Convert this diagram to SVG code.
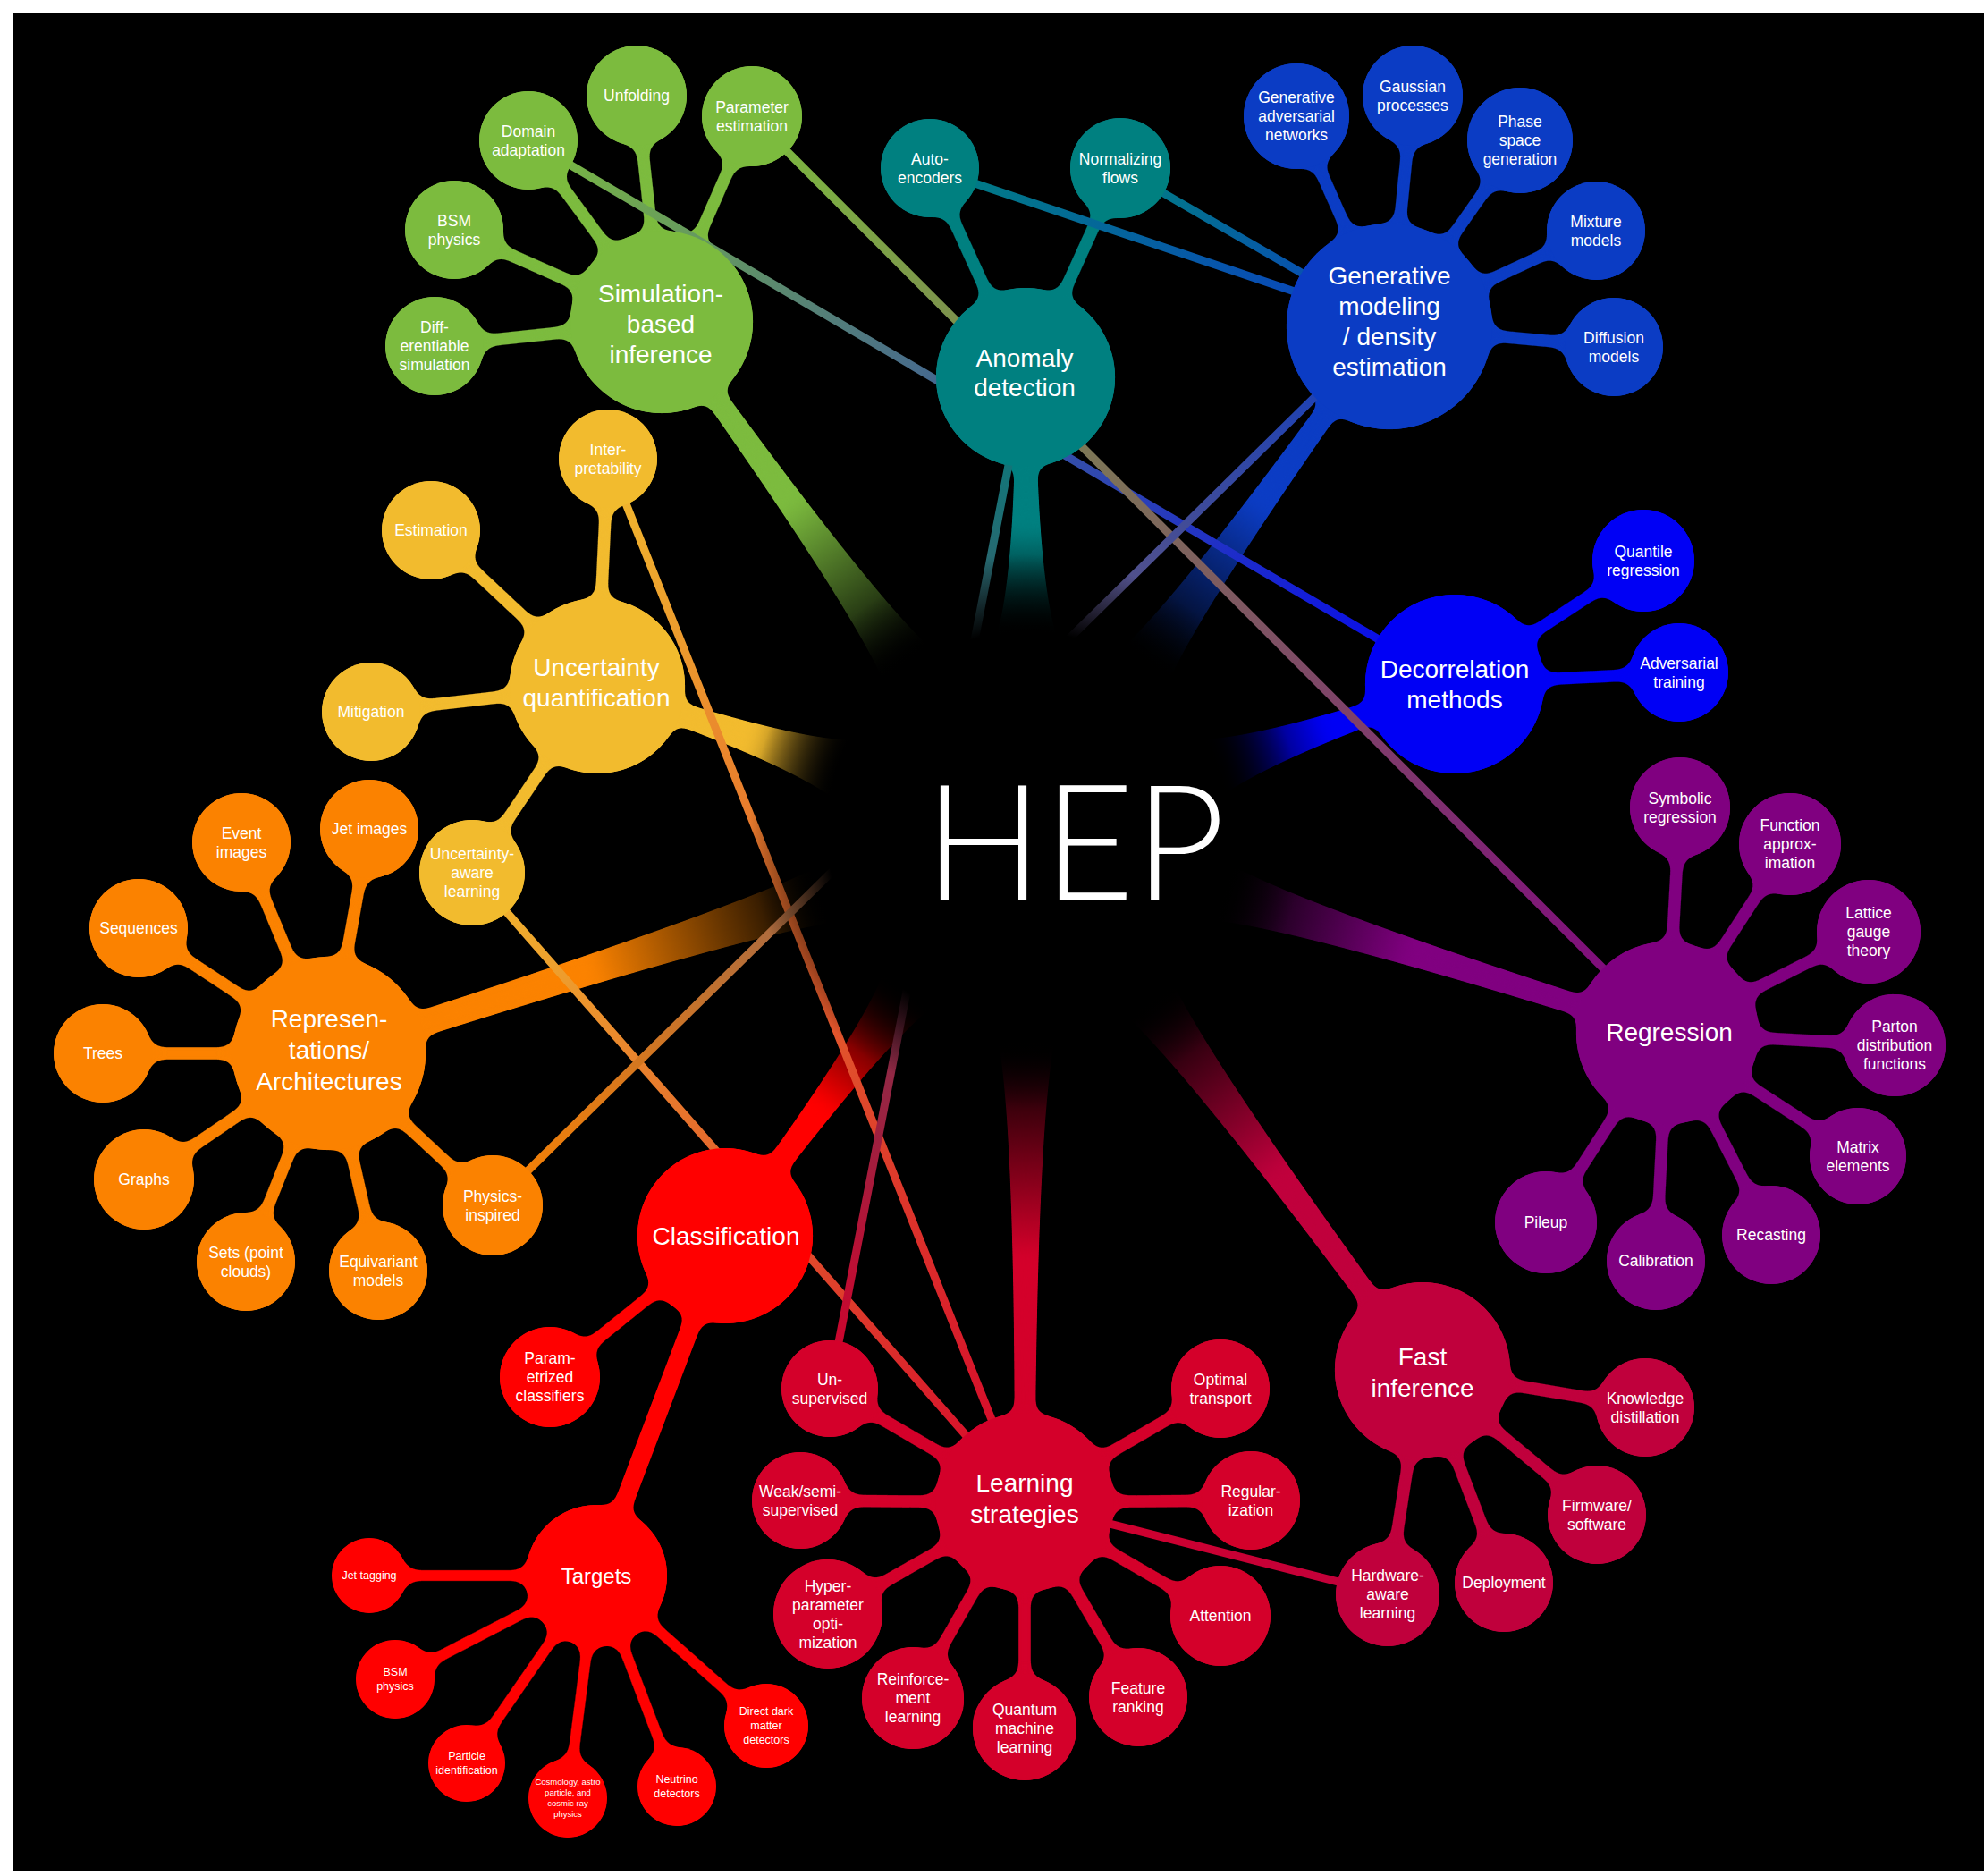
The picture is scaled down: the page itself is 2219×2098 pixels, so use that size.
<svg xmlns="http://www.w3.org/2000/svg" width="2219" height="2098" viewBox="0 0 2219 2098">
<defs>
<style>
.t{fill:#fff;font-family:"Liberation Sans",Arial,Helvetica,sans-serif;text-anchor:middle}
.mt{font-size:28px}
.lf{font-size:17.5px}
.sm{font-size:12.5px}
.xs{font-size:9.5px}
.tg{font-size:24px}
.st{stroke:currentColor;stroke-width:14;fill:none;stroke-linecap:round}
.st2{stroke:currentColor;stroke-width:20;fill:none;stroke-linecap:round}
.st3{stroke:currentColor;stroke-width:13;fill:none;stroke-linecap:round}
.lk{fill:none;stroke-width:9;stroke-linecap:round}
.hep{fill:#fff;font-family:Lato,"Open Sans","Liberation Sans",sans-serif;font-weight:300;font-size:180px;text-anchor:middle}
.c-sbi{fill:#7cbb3e;color:#7cbb3e}
.c-ad{fill:#008080;color:#008080}
.c-gen{fill:#0b3cc4;color:#0b3cc4}
.c-dec{fill:#0000f5;color:#0000f5}
.c-reg{fill:#800080;color:#800080}
.c-fast{fill:#c0003c;color:#c0003c}
.c-learn{fill:#d4002a;color:#d4002a}
.c-cls{fill:#ff0000;color:#ff0000}
.c-rep{fill:#fb8200;color:#fb8200}
.c-unc{fill:#f2bb2e;color:#f2bb2e}
</style>
<!-- blur + alpha threshold: merges circles and stems into smooth blobs -->
<filter id="goo" x="-20%" y="-20%" width="140%" height="140%" color-interpolation-filters="sRGB">
<feGaussianBlur in="SourceGraphic" stdDeviation="8"/>
<feColorMatrix type="matrix" values="1 0 0 0 0  0 1 0 0 0  0 0 1 0 0  0 0 0 22 -10"/>
</filter>
<radialGradient id="hubfade" cx="1148" cy="930" r="310" gradientUnits="userSpaceOnUse">
<stop offset="0" stop-color="#000"/>
<stop offset="0.72" stop-color="#000"/>
<stop offset="1" stop-color="#000" stop-opacity="0"/>
</radialGradient>
<!-- hub stems: cluster colour darkening towards the centre -->
<linearGradient id="w-sbi" gradientUnits="userSpaceOnUse" x1="740" y1="360" x2="1032" y2="767"><stop offset="0" stop-color="#7cbb3e"/><stop offset="0.5" stop-color="#7cbb3e"/><stop offset="0.92" stop-color="#000"/></linearGradient>
<linearGradient id="w-ad" gradientUnits="userSpaceOnUse" x1="1147" y1="422" x2="1148" y2="730"><stop offset="0" stop-color="#008080"/><stop offset="0.55" stop-color="#008080"/><stop offset="0.95" stop-color="#000"/></linearGradient>
<linearGradient id="w-gen" gradientUnits="userSpaceOnUse" x1="1554" y1="365" x2="1264" y2="767"><stop offset="0" stop-color="#0b3cc4"/><stop offset="0.5" stop-color="#0b3cc4"/><stop offset="0.92" stop-color="#000"/></linearGradient>
<linearGradient id="w-dec" gradientUnits="userSpaceOnUse" x1="1627" y1="765" x2="1337" y2="865"><stop offset="0" stop-color="#0000f5"/><stop offset="0.5" stop-color="#0000f5"/><stop offset="0.92" stop-color="#000"/></linearGradient>
<linearGradient id="w-reg" gradientUnits="userSpaceOnUse" x1="1865" y1="1155" x2="1339" y2="989"><stop offset="0" stop-color="#800080"/><stop offset="0.55" stop-color="#800080"/><stop offset="0.93" stop-color="#000"/></linearGradient>
<linearGradient id="w-fast" gradientUnits="userSpaceOnUse" x1="1591" y1="1532" x2="1266" y2="1091"><stop offset="0" stop-color="#c0003c"/><stop offset="0.5" stop-color="#c0003c"/><stop offset="0.92" stop-color="#000"/></linearGradient>
<linearGradient id="w-learn" gradientUnits="userSpaceOnUse" x1="1146" y1="1680" x2="1148" y2="1130"><stop offset="0" stop-color="#d4002a"/><stop offset="0.5" stop-color="#d4002a"/><stop offset="0.92" stop-color="#000"/></linearGradient>
<linearGradient id="w-cls" gradientUnits="userSpaceOnUse" x1="811" y1="1382" x2="1028" y2="1090"><stop offset="0" stop-color="#ff0000"/><stop offset="0.5" stop-color="#ff0000"/><stop offset="0.92" stop-color="#000"/></linearGradient>
<linearGradient id="w-rep" gradientUnits="userSpaceOnUse" x1="368" y1="1178" x2="957" y2="990"><stop offset="0" stop-color="#fb8200"/><stop offset="0.5" stop-color="#fb8200"/><stop offset="0.92" stop-color="#000"/></linearGradient>
<linearGradient id="w-unc" gradientUnits="userSpaceOnUse" x1="668" y1="767" x2="959" y2="865"><stop offset="0" stop-color="#f2bb2e"/><stop offset="0.6" stop-color="#f2bb2e"/><stop offset="0.95" stop-color="#000"/></linearGradient>
<!-- cross-links -->
<linearGradient id="g1" gradientUnits="userSpaceOnUse" x1="591" y1="157" x2="1627" y2="765"><stop offset="0" stop-color="#7cbb3e"/><stop offset="1" stop-color="#0000f5"/></linearGradient>
<linearGradient id="g2" gradientUnits="userSpaceOnUse" x1="841" y1="130" x2="1865" y2="1155"><stop offset="0" stop-color="#7cbb3e"/><stop offset="1" stop-color="#800080"/></linearGradient>
<linearGradient id="g3" gradientUnits="userSpaceOnUse" x1="1040" y1="188" x2="1554" y2="362"><stop offset="0" stop-color="#008080"/><stop offset="1" stop-color="#0b3cc4"/></linearGradient>
<linearGradient id="g4" gradientUnits="userSpaceOnUse" x1="1253" y1="188" x2="1554" y2="362"><stop offset="0" stop-color="#008080"/><stop offset="1" stop-color="#0b3cc4"/></linearGradient>
<linearGradient id="g5" gradientUnits="userSpaceOnUse" x1="680" y1="513" x2="1146" y2="1680"><stop offset="0" stop-color="#f2bb2e"/><stop offset="1" stop-color="#d4002a"/></linearGradient>
<linearGradient id="g6" gradientUnits="userSpaceOnUse" x1="528" y1="976" x2="1146" y2="1680"><stop offset="0" stop-color="#f2bb2e"/><stop offset="1" stop-color="#d4002a"/></linearGradient>
<linearGradient id="g7" gradientUnits="userSpaceOnUse" x1="551" y1="1348" x2="1554" y2="362"><stop offset="0" stop-color="#fb8200"/><stop offset="1" stop-color="#0b3cc4"/></linearGradient>
<linearGradient id="g8" gradientUnits="userSpaceOnUse" x1="928" y1="1553" x2="1147" y2="422"><stop offset="0" stop-color="#d4002a"/><stop offset="1" stop-color="#008080"/></linearGradient>
<linearGradient id="g9" gradientUnits="userSpaceOnUse" x1="1146" y1="1680" x2="1552" y2="1783"><stop offset="0" stop-color="#d4002a"/><stop offset="1" stop-color="#c0003c"/></linearGradient>
</defs>

<rect width="2219" height="2098" fill="#fff"/>
<rect x="14" y="14" width="2205" height="2078" fill="#000"/>

<g id="connectors">
<!-- stems inside each cluster (merged with their circles) -->
<g id="stems-sbi" class="c-sbi" filter="url(#goo)">
<path fill="url(#w-sbi)" d="M731,366 Q988,725 999,791 L1064,744 Q1006,712 749,354 Z"/>
<line class="st" x1="712" y1="107" x2="740" y2="360"/>
<line class="st" x1="841" y1="130" x2="740" y2="360"/>
<line class="st" x1="591" y1="157" x2="740" y2="360"/>
<line class="st" x1="508" y1="257" x2="740" y2="360"/>
<line class="st" x1="486" y1="387" x2="740" y2="360"/>
<use href="#c-sbi"/><use href="#c-sbi-unfold"/><use href="#c-sbi-param"/><use href="#c-sbi-domain"/><use href="#c-sbi-bsm"/><use href="#c-sbi-diff"/>
</g>
<g id="stems-ad" class="c-ad" filter="url(#goo)">
<path fill="url(#w-ad)" d="M1136,422 Q1137,670 1108,730 L1188,730 Q1159,670 1158,422 Z"/>
<line class="st" x1="1040" y1="188" x2="1147" y2="422"/>
<line class="st" x1="1253" y1="188" x2="1147" y2="422"/>
<use href="#c-ad"/><use href="#c-ad-auto"/><use href="#c-ad-flows"/>
</g>
<g id="stems-gen" class="c-gen" filter="url(#goo)">
<path fill="url(#w-gen)" d="M1545,356 Q1290,712 1232,744 L1297,790 Q1308,725 1563,368 Z"/>
<line class="st" x1="1450" y1="130" x2="1554" y2="365"/>
<line class="st" x1="1580" y1="107" x2="1554" y2="365"/>
<line class="st" x1="1700" y1="157" x2="1554" y2="365"/>
<line class="st" x1="1785" y1="258" x2="1554" y2="365"/>
<line class="st" x1="1805" y1="388" x2="1554" y2="365"/>
<use href="#c-gen"/><use href="#c-gen-gan"/><use href="#c-gen-gp"/><use href="#c-gen-phase"/><use href="#c-gen-mix"/><use href="#c-gen-diff"/>
</g>
<g id="stems-dec" class="c-dec" filter="url(#goo)">
<path fill="url(#w-dec)" d="M1623,755 Q1390,835 1324,827 L1350,903 Q1397,856 1631,775 Z"/>
<line class="st" x1="1838" y1="627" x2="1627" y2="765"/>
<line class="st" x1="1878" y1="752" x2="1627" y2="765"/>
<use href="#c-dec"/><use href="#c-dec-quant"/><use href="#c-dec-adv"/>
</g>
<g id="stems-reg" class="c-reg" filter="url(#goo)">
<path fill="url(#w-reg)" d="M1868,1145 Q1400,997 1351,951 L1327,1028 Q1393,1018 1862,1166 Z"/>
<line class="st" x1="1879" y1="903" x2="1865" y2="1155"/>
<line class="st" x1="2002" y1="944" x2="1865" y2="1155"/>
<line class="st" x1="2090" y1="1042" x2="1865" y2="1155"/>
<line class="st" x1="2119" y1="1169" x2="1865" y2="1155"/>
<line class="st" x1="2078" y1="1293" x2="1865" y2="1155"/>
<line class="st" x1="1981" y1="1381" x2="1865" y2="1155"/>
<line class="st" x1="1852" y1="1410" x2="1865" y2="1155"/>
<line class="st" x1="1729" y1="1367" x2="1865" y2="1155"/>
<use href="#c-reg"/><use href="#c-reg-sym"/><use href="#c-reg-func"/><use href="#c-reg-lat"/><use href="#c-reg-pdf"/><use href="#c-reg-mat"/><use href="#c-reg-rec"/><use href="#c-reg-cal"/><use href="#c-reg-pile"/>
</g>
<g id="stems-fast" class="c-fast" filter="url(#goo)">
<path fill="url(#w-fast)" d="M1600,1526 Q1311,1133 1299,1067 L1234,1115 Q1293,1146 1582,1539 Z"/>
<line class="st" x1="1840" y1="1574" x2="1591" y2="1532"/>
<line class="st" x1="1786" y1="1694" x2="1591" y2="1532"/>
<line class="st" x1="1682" y1="1770" x2="1591" y2="1532"/>
<line class="st" x1="1552" y1="1783" x2="1591" y2="1532"/>
<use href="#c-fast"/><use href="#c-fast-kd"/><use href="#c-fast-fw"/><use href="#c-fast-dep"/><use href="#c-fast-hw"/>
</g>
<g id="stems-learn" class="c-learn" filter="url(#goo)">
<path fill="url(#w-learn)" d="M1157,1680 Q1159,1190 1188,1130 L1108,1130 Q1137,1190 1135,1680 Z"/>
<line class="st" x1="928" y1="1553" x2="1146" y2="1680"/>
<line class="st" x1="895" y1="1678" x2="1146" y2="1680"/>
<line class="st" x1="926" y1="1805" x2="1146" y2="1680"/>
<line class="st" x1="1021" y1="1899" x2="1146" y2="1680"/>
<line class="st" x1="1146" y1="1933" x2="1146" y2="1680"/>
<line class="st" x1="1273" y1="1898" x2="1146" y2="1680"/>
<line class="st" x1="1365" y1="1807" x2="1146" y2="1680"/>
<line class="st" x1="1399" y1="1678" x2="1146" y2="1680"/>
<line class="st" x1="1365" y1="1553" x2="1146" y2="1680"/>
<use href="#c-learn"/><use href="#c-learn-unsup"/><use href="#c-learn-weak"/><use href="#c-learn-hyper"/><use href="#c-learn-rl"/><use href="#c-learn-qml"/><use href="#c-learn-feat"/><use href="#c-learn-att"/><use href="#c-learn-reg"/><use href="#c-learn-ot"/>
</g>
<g id="stems-cls" class="c-cls" filter="url(#goo)">
<path fill="url(#w-cls)" d="M820,1389 Q1001,1145 1060,1114 L996,1066 Q983,1132 802,1375 Z"/>
<line class="st" x1="615" y1="1540" x2="811" y2="1382"/>
<line class="st2" x1="667" y1="1762" x2="811" y2="1382"/>
<line class="st3" x1="413" y1="1762" x2="667" y2="1762"/>
<line class="st3" x1="442" y1="1878" x2="667" y2="1762"/>
<line class="st3" x1="522" y1="1972" x2="667" y2="1762"/>
<line class="st3" x1="635" y1="2011" x2="667" y2="1762"/>
<line class="st3" x1="757" y1="1998" x2="667" y2="1762"/>
<line class="st3" x1="857" y1="1930" x2="667" y2="1762"/>
<use href="#c-cls"/><use href="#c-cls-param"/><use href="#c-tgt"/><use href="#c-tgt-jet"/><use href="#c-tgt-bsm"/><use href="#c-tgt-pid"/><use href="#c-tgt-cos"/><use href="#c-tgt-nu"/><use href="#c-tgt-dm"/>
</g>
<g id="stems-rep" class="c-rep" filter="url(#goo)">
<path fill="url(#w-rep)" d="M372,1191 Q904,1021 969,1028 L945,952 Q896,995 364,1165 Z"/>
<line class="st" x1="270" y1="942" x2="368" y2="1178"/>
<line class="st" x1="413" y1="927" x2="368" y2="1178"/>
<line class="st" x1="155" y1="1038" x2="368" y2="1178"/>
<line class="st" x1="115" y1="1178" x2="368" y2="1178"/>
<line class="st" x1="161" y1="1319" x2="368" y2="1178"/>
<line class="st" x1="275" y1="1411" x2="368" y2="1178"/>
<line class="st" x1="423" y1="1421" x2="368" y2="1178"/>
<line class="st" x1="551" y1="1348" x2="368" y2="1178"/>
<use href="#c-rep"/><use href="#c-rep-event"/><use href="#c-rep-jet"/><use href="#c-rep-seq"/><use href="#c-rep-trees"/><use href="#c-rep-graphs"/><use href="#c-rep-sets"/><use href="#c-rep-equi"/><use href="#c-rep-phys"/>
</g>
<g id="stems-unc" class="c-unc" filter="url(#goo)">
<path fill="url(#w-unc)" d="M664,777 Q898,857 946,903 L972,828 Q906,836 672,757 Z"/>
<line class="st" x1="680" y1="513" x2="668" y2="767"/>
<line class="st" x1="482" y1="593" x2="668" y2="767"/>
<line class="st" x1="415" y1="796" x2="668" y2="767"/>
<line class="st" x1="528" y1="976" x2="668" y2="767"/>
<use href="#c-unc"/><use href="#c-unc-interp"/><use href="#c-unc-est"/><use href="#c-unc-mit"/><use href="#c-unc-aware"/>
</g>

<!-- cross-links between clusters -->
<g id="links">
<line class="lk" stroke="url(#g1)" x1="591" y1="157" x2="1627" y2="765"/>
<line class="lk" stroke="url(#g2)" x1="841" y1="130" x2="1865" y2="1155"/>
<line class="lk" stroke="url(#g3)" x1="1040" y1="188" x2="1554" y2="362"/>
<line class="lk" stroke="url(#g4)" stroke-width="11" x1="1253" y1="188" x2="1554" y2="362"/>
<line class="lk" stroke="url(#g5)" x1="680" y1="513" x2="1146" y2="1680"/>
<line class="lk" stroke="url(#g6)" x1="528" y1="976" x2="1146" y2="1680"/>
<line class="lk" stroke="url(#g7)" x1="551" y1="1348" x2="1554" y2="362"/>
<line class="lk" stroke="url(#g8)" x1="928" y1="1553" x2="1147" y2="422"/>
<line class="lk" stroke="url(#g9)" stroke-width="12" x1="1146" y1="1680" x2="1552" y2="1783"/>
</g>
</g>

<!-- Simulation-based inference -->
<g id="sbi" class="c-sbi"><circle id="c-sbi" cx="740" cy="360" r="102"/><text class="t mt" x="739" y="338">Simulation-<tspan x="739" dy="34">based</tspan><tspan x="739" dy="34">inference</tspan></text></g>
<g id="sbi-unfold" class="c-sbi"><circle id="c-sbi-unfold" cx="712" cy="107" r="56"/><text class="t lf" x="712" y="113">Unfolding</text></g>
<g id="sbi-param" class="c-sbi"><circle id="c-sbi-param" cx="841" cy="130" r="56"/><text class="t lf" x="841" y="126">Parameter<tspan x="841" dy="21">estimation</tspan></text></g>
<g id="sbi-domain" class="c-sbi"><circle id="c-sbi-domain" cx="591" cy="157" r="55"/><text class="t lf" x="591" y="153">Domain<tspan x="591" dy="21">adaptation</tspan></text></g>
<g id="sbi-bsm" class="c-sbi"><circle id="c-sbi-bsm" cx="508" cy="257" r="55"/><text class="t lf" x="508" y="253">BSM<tspan x="508" dy="21">physics</tspan></text></g>
<g id="sbi-diff" class="c-sbi"><circle id="c-sbi-diff" cx="486" cy="387" r="55"/><text class="t lf" x="486" y="372">Diff-<tspan x="486" dy="21">erentiable</tspan><tspan x="486" dy="21">simulation</tspan></text></g>

<!-- Anomaly detection -->
<g id="ad" class="c-ad"><circle id="c-ad" cx="1147" cy="422" r="100"/><text class="t mt" x="1146" y="410">Anomaly<tspan x="1146" dy="33">detection</tspan></text></g>
<g id="ad-auto" class="c-ad"><circle id="c-ad-auto" cx="1040" cy="188" r="55"/><text class="t lf" x="1040" y="184">Auto-<tspan x="1040" dy="21">encoders</tspan></text></g>
<g id="ad-flows" class="c-ad"><circle id="c-ad-flows" cx="1253" cy="188" r="56"/><text class="t lf" x="1253" y="184">Normalizing<tspan x="1253" dy="21">flows</tspan></text></g>

<!-- Generative modeling -->
<g id="gen" class="c-gen"><circle id="c-gen" cx="1554" cy="365" r="115"/><text class="t mt" x="1554" y="318">Generative<tspan x="1554" dy="34">modeling</tspan><tspan x="1554" dy="34">/ density</tspan><tspan x="1554" dy="34">estimation</tspan></text></g>
<g id="gen-gan" class="c-gen"><circle id="c-gen-gan" cx="1450" cy="130" r="59"/><text class="t lf" x="1450" y="115">Generative<tspan x="1450" dy="21">adversarial</tspan><tspan x="1450" dy="21">networks</tspan></text></g>
<g id="gen-gp" class="c-gen"><circle id="c-gen-gp" cx="1580" cy="107" r="56"/><text class="t lf" x="1580" y="103">Gaussian<tspan x="1580" dy="21">processes</tspan></text></g>
<g id="gen-phase" class="c-gen"><circle id="c-gen-phase" cx="1700" cy="157" r="59"/><text class="t lf" x="1700" y="142">Phase<tspan x="1700" dy="21">space</tspan><tspan x="1700" dy="21">generation</tspan></text></g>
<g id="gen-mix" class="c-gen"><circle id="c-gen-mix" cx="1785" cy="258" r="55"/><text class="t lf" x="1785" y="254">Mixture<tspan x="1785" dy="21">models</tspan></text></g>
<g id="gen-diff" class="c-gen"><circle id="c-gen-diff" cx="1805" cy="388" r="55"/><text class="t lf" x="1805" y="384">Diffusion<tspan x="1805" dy="21">models</tspan></text></g>

<!-- Decorrelation methods -->
<g id="dec" class="c-dec"><circle id="c-dec" cx="1627" cy="765" r="100"/><text class="t mt" x="1627" y="758">Decorrelation<tspan x="1627" dy="34">methods</tspan></text></g>
<g id="dec-quant" class="c-dec"><circle id="c-dec-quant" cx="1838" cy="627" r="57"/><text class="t lf" x="1838" y="623">Quantile<tspan x="1838" dy="21">regression</tspan></text></g>
<g id="dec-adv" class="c-dec"><circle id="c-dec-adv" cx="1878" cy="752" r="55"/><text class="t lf" x="1878" y="748">Adversarial<tspan x="1878" dy="21">training</tspan></text></g>

<!-- Regression -->
<g id="reg" class="c-reg"><circle id="c-reg" cx="1865" cy="1155" r="102"/><text class="t mt" x="1867" y="1164">Regression</text></g>
<g id="reg-sym" class="c-reg"><circle id="c-reg-sym" cx="1879" cy="903" r="56"/><text class="t lf" x="1879" y="899">Symbolic<tspan x="1879" dy="21">regression</tspan></text></g>
<g id="reg-func" class="c-reg"><circle id="c-reg-func" cx="2002" cy="944" r="57"/><text class="t lf" x="2002" y="929">Function<tspan x="2002" dy="21">approx-</tspan><tspan x="2002" dy="21">imation</tspan></text></g>
<g id="reg-lat" class="c-reg"><circle id="c-reg-lat" cx="2090" cy="1042" r="58"/><text class="t lf" x="2090" y="1027">Lattice<tspan x="2090" dy="21">gauge</tspan><tspan x="2090" dy="21">theory</tspan></text></g>
<g id="reg-pdf" class="c-reg"><circle id="c-reg-pdf" cx="2119" cy="1169" r="57"/><text class="t lf" x="2119" y="1154">Parton<tspan x="2119" dy="21">distribution</tspan><tspan x="2119" dy="21">functions</tspan></text></g>
<g id="reg-mat" class="c-reg"><circle id="c-reg-mat" cx="2078" cy="1293" r="54"/><text class="t lf" x="2078" y="1289">Matrix<tspan x="2078" dy="21">elements</tspan></text></g>
<g id="reg-rec" class="c-reg"><circle id="c-reg-rec" cx="1981" cy="1381" r="55"/><text class="t lf" x="1981" y="1387">Recasting</text></g>
<g id="reg-cal" class="c-reg"><circle id="c-reg-cal" cx="1852" cy="1410" r="55"/><text class="t lf" x="1852" y="1416">Calibration</text></g>
<g id="reg-pile" class="c-reg"><circle id="c-reg-pile" cx="1729" cy="1367" r="57"/><text class="t lf" x="1729" y="1373">Pileup</text></g>

<!-- Fast inference -->
<g id="fast" class="c-fast"><circle id="c-fast" cx="1591" cy="1532" r="98"/><text class="t mt" x="1591" y="1527">Fast<tspan x="1591" dy="35">inference</tspan></text></g>
<g id="fast-kd" class="c-fast"><circle id="c-fast-kd" cx="1840" cy="1574" r="55"/><text class="t lf" x="1840" y="1570">Knowledge<tspan x="1840" dy="21">distillation</tspan></text></g>
<g id="fast-fw" class="c-fast"><circle id="c-fast-fw" cx="1786" cy="1694" r="55"/><text class="t lf" x="1786" y="1690">Firmware/<tspan x="1786" dy="21">software</tspan></text></g>
<g id="fast-dep" class="c-fast"><circle id="c-fast-dep" cx="1682" cy="1770" r="55"/><text class="t lf" x="1682" y="1776">Deployment</text></g>
<g id="fast-hw" class="c-fast"><circle id="c-fast-hw" cx="1552" cy="1783" r="58"/><text class="t lf" x="1552" y="1768">Hardware-<tspan x="1552" dy="21">aware</tspan><tspan x="1552" dy="21">learning</tspan></text></g>

<!-- Learning strategies -->
<g id="learn" class="c-learn"><circle id="c-learn" cx="1146" cy="1680" r="100"/><text class="t mt" x="1146" y="1668">Learning<tspan x="1146" dy="35">strategies</tspan></text></g>
<g id="learn-unsup" class="c-learn"><circle id="c-learn-unsup" cx="928" cy="1553" r="54"/><text class="t lf" x="928" y="1549">Un-<tspan x="928" dy="21">supervised</tspan></text></g>
<g id="learn-weak" class="c-learn"><circle id="c-learn-weak" cx="895" cy="1678" r="54"/><text class="t lf" x="895" y="1674">Weak/semi-<tspan x="895" dy="21">supervised</tspan></text></g>
<g id="learn-hyper" class="c-learn"><circle id="c-learn-hyper" cx="926" cy="1805" r="61"/><text class="t lf" x="926" y="1780">Hyper-<tspan x="926" dy="21">parameter</tspan><tspan x="926" dy="21">opti-</tspan><tspan x="926" dy="21">mization</tspan></text></g>
<g id="learn-rl" class="c-learn"><circle id="c-learn-rl" cx="1021" cy="1899" r="57"/><text class="t lf" x="1021" y="1884">Reinforce-<tspan x="1021" dy="21">ment</tspan><tspan x="1021" dy="21">learning</tspan></text></g>
<g id="learn-qml" class="c-learn"><circle id="c-learn-qml" cx="1146" cy="1933" r="58"/><text class="t lf" x="1146" y="1918">Quantum<tspan x="1146" dy="21">machine</tspan><tspan x="1146" dy="21">learning</tspan></text></g>
<g id="learn-feat" class="c-learn"><circle id="c-learn-feat" cx="1273" cy="1898" r="55"/><text class="t lf" x="1273" y="1894">Feature<tspan x="1273" dy="21">ranking</tspan></text></g>
<g id="learn-att" class="c-learn"><circle id="c-learn-att" cx="1365" cy="1807" r="56"/><text class="t lf" x="1365" y="1813">Attention</text></g>
<g id="learn-reg" class="c-learn"><circle id="c-learn-reg" cx="1399" cy="1678" r="55"/><text class="t lf" x="1399" y="1674">Regular-<tspan x="1399" dy="21">ization</tspan></text></g>
<g id="learn-ot" class="c-learn"><circle id="c-learn-ot" cx="1365" cy="1553" r="55"/><text class="t lf" x="1365" y="1549">Optimal<tspan x="1365" dy="21">transport</tspan></text></g>

<!-- Classification and targets -->
<g id="cls" class="c-cls"><circle id="c-cls" cx="811" cy="1382" r="98"/><text class="t mt" x="812" y="1392">Classification</text></g>
<g id="cls-param" class="c-cls"><circle id="c-cls-param" cx="615" cy="1540" r="56"/><text class="t lf" x="615" y="1525">Param-<tspan x="615" dy="21">etrized</tspan><tspan x="615" dy="21">classifiers</tspan></text></g>
<g id="tgt" class="c-cls"><circle id="c-tgt" cx="667" cy="1762" r="79"/><text class="t tg" x="667" y="1771">Targets</text></g>
<g id="tgt-jet" class="c-cls"><circle id="c-tgt-jet" cx="413" cy="1762" r="42"/><text class="t sm" x="413" y="1766">Jet tagging</text></g>
<g id="tgt-bsm" class="c-cls"><circle id="c-tgt-bsm" cx="442" cy="1878" r="44"/><text class="t sm" x="442" y="1874">BSM<tspan x="442" dy="16">physics</tspan></text></g>
<g id="tgt-pid" class="c-cls"><circle id="c-tgt-pid" cx="522" cy="1972" r="43"/><text class="t sm" x="522" y="1968">Particle<tspan x="522" dy="16">identification</tspan></text></g>
<g id="tgt-cos" class="c-cls"><circle id="c-tgt-cos" cx="635" cy="2011" r="44"/><text class="t xs" x="635" y="1996">Cosmology, astro<tspan x="635" dy="12">particle, and</tspan><tspan x="635" dy="12">cosmic ray</tspan><tspan x="635" dy="12">physics</tspan></text></g>
<g id="tgt-nu" class="c-cls"><circle id="c-tgt-nu" cx="757" cy="1998" r="44"/><text class="t sm" x="757" y="1994">Neutrino<tspan x="757" dy="16">detectors</tspan></text></g>
<g id="tgt-dm" class="c-cls"><circle id="c-tgt-dm" cx="857" cy="1930" r="47"/><text class="t sm" x="857" y="1918">Direct dark<tspan x="857" dy="16">matter</tspan><tspan x="857" dy="16">detectors</tspan></text></g>

<!-- Representations / architectures -->
<g id="rep" class="c-rep"><circle id="c-rep" cx="368" cy="1178" r="108"/><text class="t mt" x="368" y="1149">Represen-<tspan x="368" dy="35">tations/</tspan><tspan x="368" dy="35">Architectures</tspan></text></g>
<g id="rep-event" class="c-rep"><circle id="c-rep-event" cx="270" cy="942" r="55"/><text class="t lf" x="270" y="938">Event<tspan x="270" dy="21">images</tspan></text></g>
<g id="rep-jet" class="c-rep"><circle id="c-rep-jet" cx="413" cy="927" r="55"/><text class="t lf" x="413" y="933">Jet images</text></g>
<g id="rep-seq" class="c-rep"><circle id="c-rep-seq" cx="155" cy="1038" r="55"/><text class="t lf" x="155" y="1044">Sequences</text></g>
<g id="rep-trees" class="c-rep"><circle id="c-rep-trees" cx="115" cy="1178" r="55"/><text class="t lf" x="115" y="1184">Trees</text></g>
<g id="rep-graphs" class="c-rep"><circle id="c-rep-graphs" cx="161" cy="1319" r="56"/><text class="t lf" x="161" y="1325">Graphs</text></g>
<g id="rep-sets" class="c-rep"><circle id="c-rep-sets" cx="275" cy="1411" r="55"/><text class="t lf" x="275" y="1407">Sets (point<tspan x="275" dy="21">clouds)</tspan></text></g>
<g id="rep-equi" class="c-rep"><circle id="c-rep-equi" cx="423" cy="1421" r="55"/><text class="t lf" x="423" y="1417">Equivariant<tspan x="423" dy="21">models</tspan></text></g>
<g id="rep-phys" class="c-rep"><circle id="c-rep-phys" cx="551" cy="1348" r="56"/><text class="t lf" x="551" y="1344">Physics-<tspan x="551" dy="21">inspired</tspan></text></g>

<!-- Uncertainty quantification -->
<g id="unc" class="c-unc"><circle id="c-unc" cx="668" cy="767" r="98"/><text class="t mt" x="667" y="756">Uncertainty<tspan x="667" dy="34">quantification</tspan></text></g>
<g id="unc-interp" class="c-unc"><circle id="c-unc-interp" cx="680" cy="513" r="55"/><text class="t lf" x="680" y="509">Inter-<tspan x="680" dy="21">pretability</tspan></text></g>
<g id="unc-est" class="c-unc"><circle id="c-unc-est" cx="482" cy="593" r="55"/><text class="t lf" x="482" y="599">Estimation</text></g>
<g id="unc-mit" class="c-unc"><circle id="c-unc-mit" cx="415" cy="796" r="55"/><text class="t lf" x="415" y="802">Mitigation</text></g>
<g id="unc-aware" class="c-unc"><circle id="c-unc-aware" cx="528" cy="976" r="59"/><text class="t lf" x="528" y="961">Uncertainty-<tspan x="528" dy="21">aware</tspan><tspan x="528" dy="21">learning</tspan></text></g>

<!-- central hub: dark disk with a soft rim that swallows the incoming stems -->
<g id="hep">
<circle cx="1148" cy="930" r="310" fill="url(#hubfade)"/>
<text class="hep" x="1202" y="1006" textLength="337" lengthAdjust="spacingAndGlyphs">HEP</text>
</g>
</svg>
